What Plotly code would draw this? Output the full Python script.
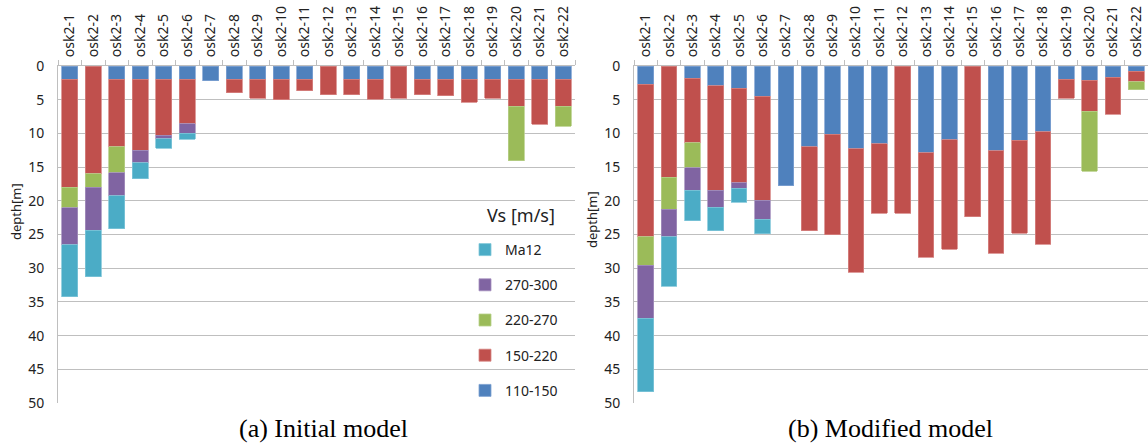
import plotly.graph_objects as go

# Borehole names (shared by both models)
sites = [f"osk2-{i}" for i in range(1, 23)]

# Layer thicknesses [m] per Vs class, initial model
init_110_150 = [2, 0, 2, 2, 2, 2, 2.2, 2, 2, 2, 2, 0, 2, 2, 0, 2, 2, 2, 2, 2, 2, 2]
init_150_220 = [16, 16, 10, 10.5, 8.3, 6.6, 0, 2, 2.75, 3, 1.7, 4.3, 2.3, 2.95, 4.75, 2.3, 2.45, 3.35, 2.75, 4, 6.65, 4]
init_220_270 = [3, 2, 3.85, 0, 0, 0, 0, 0, 0, 0, 0, 0, 0, 0, 0, 0, 0, 0, 0, 8.05, 0, 2.95]
init_270_300 = [5.5, 6.4, 3.4, 1.85, 0.5, 1.4, 0, 0, 0, 0, 0, 0, 0, 0, 0, 0, 0, 0, 0, 0, 0, 0]
init_ma12 = [7.7, 6.9, 4.9, 2.35, 1.4, 0.9, 0, 0, 0, 0, 0, 0, 0, 0, 0, 0, 0, 0, 0, 0, 0, 0]

# Layer thicknesses [m] per Vs class, modified model
mod_110_150 = [2.7, 0, 1.8, 2.9, 3.3, 4.5, 17.75, 11.95, 10.15, 12.25, 11.55, 0, 12.85, 10.95, 0, 12.55, 11.05, 9.75, 1.95, 2.1, 1.65, 0.75]
mod_150_220 = [22.6, 16.5, 9.55, 15.5, 14.05, 15.4, 0, 12.5, 14.9, 18.35, 10.3, 21.85, 15.5, 16.25, 22.4, 15.25, 13.75, 16.7, 2.8, 4.6, 5.5, 1.6]
mod_220_270 = [4.25, 4.75, 3.75, 0, 0, 0, 0, 0, 0, 0, 0, 0, 0, 0, 0, 0, 0, 0, 0, 8.95, 0, 1.2]
mod_270_300 = [7.9, 4.05, 3.3, 2.55, 0.8, 2.85, 0, 0, 0, 0, 0, 0, 0, 0, 0, 0, 0, 0, 0, 0, 0, 0]
mod_ma12 = [10.85, 7.4, 4.55, 3.5, 2.1, 2.15, 0, 0, 0, 0, 0, 0, 0, 0, 0, 0, 0, 0, 0, 0, 0, 0]

classes = ["110-150", "150-220", "220-270", "270-300", "Ma12"]
colors = ["#4F81BD", "#C0504D", "#9BBB59", "#8064A2", "#4BACC6"]
edges = ["#7FA2D2", "#D68583", "#B8D08A", "#A591BE", "#80C6D8"]

initial = [init_110_150, init_150_220, init_220_270, init_270_300, init_ma12]
modified = [mod_110_150, mod_150_220, mod_220_270, mod_270_300, mod_ma12]

W, H = 1148, 445
px = lambda x: x / W
py = lambda y: 1 - y / H


def layers(vals):
    # empty layers are left out so no zero-height outlines are drawn
    return [v if v > 0 else None for v in vals]


fig = go.Figure()
for k, (name, col, edge) in enumerate(zip(classes, colors, edges)):
    fig.add_trace(go.Bar(
        x=sites, y=layers(initial[k]), name=name,
        marker=dict(color=col, line=dict(color=edge, width=0.8)),
        xaxis="x", yaxis="y", legendgroup=name, legendrank=len(classes) - k,
        showlegend=True))
    fig.add_trace(go.Bar(
        x=sites, y=layers(modified[k]), name=name,
        marker=dict(color=col, line=dict(color=edge, width=0.8)),
        xaxis="x2", yaxis="y2", legendgroup=name, showlegend=False))

ink = "#222222"
tick_font = dict(family="Noto Sans", size=14, color=ink)
grid = "#BFBFBF"

xcommon = dict(type="category", side="top", tickangle=-90, tickfont=tick_font,
               showline=True, linecolor=grid, linewidth=1, ticks="outside",
               ticklen=5, tickcolor=grid, tickson="boundaries", showgrid=False,
               ticklabelstandoff=5, automargin=False)
ycommon = dict(range=[50, 0], tickvals=list(range(0, 55, 5)), tickfont=tick_font,
               showgrid=True, gridcolor=grid, gridwidth=1.2, zeroline=False,
               showline=True, linecolor=grid, linewidth=1, ticks="",
               ticklabelstandoff=10, automargin=False)

text_annotations = [
    dict(text="(a) Initial model", x=px(323), y=py(428)),
    dict(text="(b) Modified model", x=px(890), y=py(428)),
]
annotations = [dict(a, xref="paper", yref="paper", showarrow=False,
                    xanchor="center", yanchor="middle",
                    font=dict(family="Liberation Serif", size=26, color="black"))
               for a in text_annotations]
# depth axis titles
for x0, y0 in [(16, 212), (592, 220)]:
    annotations.append(dict(text="depth[m]", x=px(x0), y=py(y0), xref="paper", yref="paper",
                            showarrow=False, textangle=-90, xanchor="center", yanchor="middle",
                            font=dict(family="Noto Sans", size=13, color=ink)))
# legend heading
annotations.append(dict(text="Vs [m/s]", x=px(557), y=py(215), xref="paper", yref="paper",
                        showarrow=False, xanchor="right", yanchor="middle",
                        font=dict(family="Noto Sans", size=18, color=ink)))

fig.update_layout(
    width=W, height=H,
    margin=dict(l=0, r=0, t=0, b=0, autoexpand=False),
    paper_bgcolor="white", plot_bgcolor="white",
    barmode="stack", bargap=0.33,
    xaxis=dict(domain=[px(58), px(575)], anchor="y", **xcommon),
    yaxis=dict(domain=[py(403), py(66)], anchor="x", **ycommon),
    xaxis2=dict(domain=[px(634), 1.0], anchor="y2", **xcommon),
    yaxis2=dict(domain=[py(403), py(66)], anchor="x2", **ycommon),
    legend=dict(
        x=px(465), y=py(234), xanchor="left", yanchor="top",
        traceorder="grouped", tracegroupgap=14,
        bgcolor="rgba(255,255,255,0)",
        font=dict(family="Noto Sans", size=14, color=ink),
        itemwidth=30,
    ),
    annotations=annotations,
)

fig.write_html("out.html")
